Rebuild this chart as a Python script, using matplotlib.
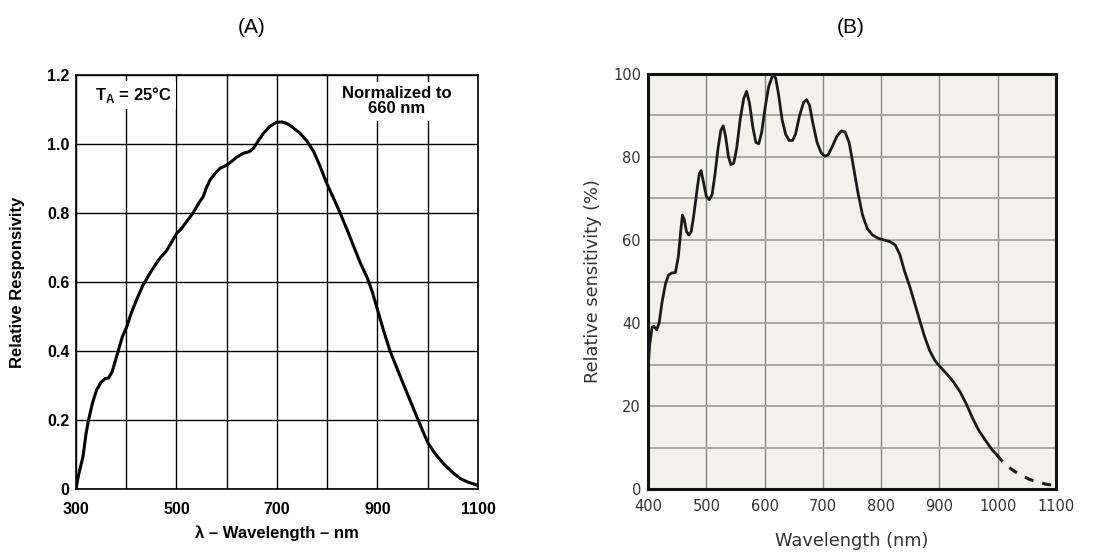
import numpy as np
import matplotlib.pyplot as plt

# (A) photodiode responsivity, normalized to 660 nm
wl_a = [300, 305, 314, 320, 325, 333, 341, 350, 358, 365, 372, 378, 384, 392, 401,
        410, 421, 433, 447, 458, 467, 480, 490, 500, 510, 520, 533, 545, 553, 560,
        567, 577, 587, 600, 610, 620, 633, 645, 653, 663, 673, 685, 699, 710, 719,
        730, 746, 760, 773, 786, 799, 812, 826, 840, 853, 866, 880, 890, 900, 912,
        925, 938, 951, 966, 981, 991, 1001, 1016, 1031, 1048, 1064, 1080, 1097, 1100]
resp_a = [0.0, 0.04, 0.094, 0.16, 0.2, 0.25, 0.287, 0.31, 0.32, 0.322, 0.34, 0.37, 0.4, 0.44, 0.47,
          0.51, 0.55, 0.59, 0.625, 0.65, 0.669, 0.69, 0.715, 0.74, 0.755, 0.775, 0.80, 0.83, 0.847, 0.875,
          0.896, 0.915, 0.93, 0.939, 0.95, 0.962, 0.973, 0.978, 0.987, 1.01, 1.031, 1.05, 1.063, 1.064, 1.06,
          1.05, 1.031, 1.008, 0.978, 0.935, 0.886, 0.845, 0.799, 0.75, 0.702, 0.655, 0.611, 0.57, 0.52, 0.46,
          0.40, 0.353, 0.306, 0.253, 0.2, 0.165, 0.132, 0.10, 0.074, 0.05, 0.031, 0.02, 0.012, 0.01]

# (B) sensor relative sensitivity (%)
wl_b = [400, 403, 407, 410, 415, 419, 424, 430, 435, 440, 447, 452, 456, 459, 462,
        466, 470, 474, 478, 484, 488, 491, 495, 500, 505, 510, 515, 520, 525, 529,
        533, 538, 542, 547, 552, 558, 564, 569, 574, 580, 585, 590, 595, 601, 607,
        614, 619, 624, 630, 636, 642, 648, 653, 660, 667, 672, 677, 683, 690, 697,
        703, 709, 716, 724, 732, 738, 745, 752, 760, 768, 776, 785, 795, 805, 815,
        824, 832, 840, 849, 858, 867, 875, 883, 892, 900, 912, 923, 935, 946, 957,
        968, 980, 990, 998]
sens_b = [29, 35, 39, 39.2, 38.4, 40, 45, 49.5, 51.5, 52, 52.2, 56, 62, 66, 65,
          62, 61.2, 62, 65.5, 72, 76, 76.7, 74, 70.5, 69.7, 71, 76, 82, 86.5, 87.5,
          85, 80, 78.2, 78.5, 82, 89, 94, 95.8, 93, 87, 83.5, 83.2, 86, 92, 97,
          99.8, 99, 95, 89, 85.5, 84, 84, 85.5, 90, 93.2, 93.8, 92.5, 88, 83.5, 81,
          80.2, 80.5, 82.5, 85, 86.3, 86, 83.5, 78, 71.5, 66, 62.8, 61.2, 60.4, 60, 59.6,
          58.8, 56.5, 52.5, 48.8, 44.5, 40.2, 36.5, 33.4, 31, 29.6, 27.8, 26, 23.5, 20.5, 17,
          14, 11.5, 9.5, 8.3]
# extrapolated tail, drawn dashed
wl_b_tail = [998, 1010, 1025, 1040, 1055, 1070, 1085, 1100]
sens_b_tail = [8.3, 6.3, 4.6, 3.3, 2.3, 1.6, 1.1, 0.8]

fig = plt.figure(figsize=(10.93, 5.53), dpi=100)

fig.text(0.2306, 0.951, '(A)', ha='center', va='center', fontsize=15, family='Liberation Sans')
fig.text(0.778, 0.951, '(B)', ha='center', va='center', fontsize=15, family='Liberation Sans')

# ---- panel A ----
ax1 = fig.add_axes([0.0695, 0.1157, 0.3678, 0.7486])
ax1.plot(wl_a, resp_a, color='black', lw=2.2, zorder=3)
ax1.set_xlim(300, 1100)
ax1.set_ylim(0, 1.2)
ax1.set_xticks(np.arange(300, 1101, 100), minor=True)
ax1.set_xticks([300, 500, 700, 900, 1100])
ax1.set_yticks([0, 0.2, 0.4, 0.6, 0.8, 1.0, 1.2])
ax1.set_yticklabels(['0', '0.2', '0.4', '0.6', '0.8', '1.0', '1.2'])
ax1.grid(True, which='both', color='black', lw=1.0)
ax1.set_axisbelow(True)
ax1.tick_params(axis='x', which='both', length=0, pad=9)
ax1.tick_params(axis='y', which='both', length=0, pad=4.5)
for lab in ax1.get_xticklabels() + ax1.get_yticklabels():
    lab.set_fontweight('bold')
    lab.set_fontsize(11.5)
    lab.set_family('Liberation Sans')
for s in ax1.spines.values():
    s.set_linewidth(1.2)
ax1.set_xlabel('λ – Wavelength – nm', fontsize=12, fontweight='bold', family='Liberation Sans', va='top')
ax1.set_ylabel('Relative Responsivity', fontsize=12, fontweight='bold', family='Liberation Sans')
ax1.xaxis.set_label_coords(0.5, -0.087)
ax1.yaxis.set_label_coords(-0.127, 0.5)
box = dict(facecolor='white', edgecolor='none', pad=3)
ax1.text(0.144, 0.952, r'T$_\mathregular{A}$ = 25°C', transform=ax1.transAxes, ha='center', va='center',
         fontsize=12, fontweight='bold', family='Liberation Sans', bbox=box, zorder=4)
ax1.text(0.798, 0.937, 'Normalized to\n660 nm', transform=ax1.transAxes, ha='center', va='center',
         fontsize=12, fontweight='bold', family='Liberation Sans', bbox=box, zorder=4, linespacing=1.05)

# ---- panel B ----
ax2 = fig.add_axes([0.5929, 0.1157, 0.3733, 0.7505])
ax2.set_facecolor('#f2f2ea')
ax2.plot(wl_b, sens_b, color='#1a1a1a', lw=2.0, zorder=3)
ax2.plot(wl_b_tail, sens_b_tail, color='#1a1a1a', lw=2.2, ls=(0, (3, 3)), zorder=3)
ax2.set_xlim(400, 1100)
ax2.set_ylim(0, 100)
ax2.set_xticks(np.arange(400, 1101, 100))
ax2.set_yticks(np.arange(0, 101, 20))
ax2.set_yticks(np.arange(0, 101, 10), minor=True)
ax2.xaxis.grid(True, color='#858585', lw=1.0)
ax2.yaxis.grid(True, which='both', color='#a8a8a2', lw=1.4)
ax2.set_axisbelow(True)
ax2.tick_params(axis='x', which='both', length=0, pad=7, labelsize=10.5, labelcolor='#333333')
ax2.tick_params(axis='y', which='both', length=0, pad=5, labelsize=10.5, labelcolor='#333333')
for s in ax2.spines.values():
    s.set_linewidth(2.2)
    s.set_color('#111111')
ax2.set_xlabel('Wavelength (nm)', fontsize=12.8, color='#333333', va='top')
ax2.set_ylabel('Relative sensitivity (%)', fontsize=12.8, color='#333333')
ax2.xaxis.set_label_coords(0.5, -0.104)
ax2.yaxis.set_label_coords(-0.113, 0.5)

fig.savefig('out.png', dpi=100)
